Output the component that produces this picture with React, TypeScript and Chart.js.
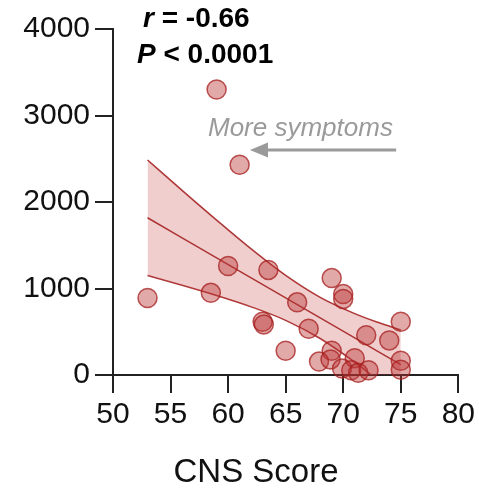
import React, { useEffect, useRef } from "react";
import { Chart, registerables } from "chart.js";

Chart.register(...registerables);

// Scatter data
const cnsScore = [53, 59, 61, 58.5, 60, 63.5, 66, 63, 63.1, 65, 67, 69, 70, 70, 72, 74, 75, 75, 75, 69, 67.9, 68.9, 71, 69.9, 70.7, 71.3, 72.2];
const values = [890, 3300, 2430, 950, 1260, 1215, 840, 615, 585, 280, 535, 1120, 935, 880, 460, 400, 615, 165, 60, 280, 155, 180, 195, 75, 55, 25, 55];

// Regression line and 95% band
const fitX = [53, 56, 59, 62, 65, 68, 71, 73, 75];
const fitMid = [1818, 1586, 1355, 1123, 892, 660, 429, 274, 120];
const fitUpper = [2486, 2135, 1791, 1458, 1152, 898, 710, 609, 520];
const fitLower = [1150, 1037, 919, 788, 632, 422, 148, -61, -280];

// Axes
const xMin = 50, xMax = 80, xStep = 5;
const yMin = 0, yMax = 4000, yStep = 1000;
const xTitle = "CNS Score";
const statR = " = -0.66";
const statP = " < 0.0001";
const arrowLabel = "More symptoms";
const arrowFromX = 74.6, arrowToX = 61.9, arrowY = 2600;

const FONT = '"Liberation Sans", Arial, Helvetica, sans-serif';
const RED_LINE = "rgba(165, 35, 35, 0.9)";

const annotPlugin = {
  id: "annot",
  afterDraw(chart: any) {
    const ctx = chart.ctx as CanvasRenderingContext2D;
    const xs = chart.scales.x, ys = chart.scales.y;
    ctx.save();
    ctx.textAlign = "left";
    ctx.textBaseline = "alphabetic";
    ctx.fillStyle = "#000";
    // r = ...
    let x = 143, y = 27;
    ctx.font = `italic bold 28px ${FONT}`;
    ctx.fillText("r", x, y);
    x += ctx.measureText("r").width;
    ctx.font = `bold 28px ${FONT}`;
    ctx.fillText(statR, x, y);
    // P < ...
    x = 137; y = 63;
    ctx.font = `italic bold 28px ${FONT}`;
    ctx.fillText("P", x, y);
    x += ctx.measureText("P").width;
    ctx.font = `bold 28px ${FONT}`;
    ctx.fillText(statP, x, y);

    // More symptoms
    ctx.fillStyle = "#9a9a9a";
    ctx.font = `italic 26px ${FONT}`;
    ctx.fillText(arrowLabel, 208, 136);

    // arrow
    const ax1 = xs.getPixelForValue(arrowFromX);
    const ax2 = xs.getPixelForValue(arrowToX);
    const ay = ys.getPixelForValue(arrowY);
    ctx.strokeStyle = "#9a9a9a";
    ctx.lineWidth = 3;
    ctx.beginPath();
    ctx.moveTo(ax1, ay);
    ctx.lineTo(ax2 + 14, ay);
    ctx.stroke();
    ctx.beginPath();
    ctx.moveTo(ax2, ay);
    ctx.lineTo(ax2 + 18, ay - 7.5);
    ctx.lineTo(ax2 + 18, ay + 7.5);
    ctx.closePath();
    ctx.fill();

    // x title
    ctx.fillStyle = "#111";
    ctx.font = `33px ${FONT}`;
    ctx.textAlign = "center";
    ctx.fillText(xTitle, 256, 482);
    ctx.restore();
  },
};

export default function App() {
  const ref = useRef<HTMLCanvasElement | null>(null);
  useEffect(() => {
    if (!ref.current) return;
    const pts = cnsScore.map((v, i) => ({ x: v, y: values[i] }));
    const up = fitX.map((v, i) => ({ x: v, y: fitUpper[i] }));
    const lo = fitX.map((v, i) => ({ x: v, y: fitLower[i] }));
    const mid = fitX.map((v, i) => ({ x: v, y: fitMid[i] }));
    const chart = new Chart(ref.current, {
      type: "scatter",
      data: {
        datasets: [
          {
            data: pts,
            pointRadius: 9.5,
            pointBackgroundColor: "rgba(185, 50, 50, 0.42)",
            pointBorderColor: "rgba(165, 30, 30, 0.75)",
            pointBorderWidth: 1.5,
            order: 0,
            clip: false,
          } as any,
          {
            data: up,
            showLine: true,
            pointRadius: 0,
            borderColor: RED_LINE,
            borderWidth: 1.5,
            cubicInterpolationMode: "monotone",
            fill: { target: 2 },
            backgroundColor: "rgba(195, 60, 60, 0.25)",
            order: 2,
          },
          {
            data: lo,
            showLine: true,
            pointRadius: 0,
            borderColor: RED_LINE,
            borderWidth: 1.5,
            cubicInterpolationMode: "monotone",
            order: 3,
          },
          {
            data: mid,
            showLine: true,
            pointRadius: 0,
            borderColor: RED_LINE,
            borderWidth: 1.5,
            order: 1,
          },
        ],
      },
      options: {
        animation: false,
        responsive: false,
        devicePixelRatio: 1,
        events: [],
        layout: { padding: { top: 29, right: 20, left: 0, bottom: 0 } },
        plugins: { legend: { display: false }, tooltip: { enabled: false } },
        scales: {
          x: {
            type: "linear",
            min: xMin,
            max: xMax,
            afterFit: (s: any) => { s.height = 120; },
            ticks: { stepSize: xStep, color: "#111", font: { family: FONT, size: 30 }, padding: 4, callback: (v: any) => String(v) },
            grid: { drawOnChartArea: false, drawTicks: true, tickLength: 18, color: "#222", lineWidth: 2 },
            border: { display: true, color: "#222", width: 2 },
          },
          y: {
            type: "linear",
            min: yMin,
            max: yMax,
            afterFit: (s: any) => { s.width = 113; },
            ticks: { stepSize: yStep, color: "#111", font: { family: FONT, size: 30 }, padding: 5, callback: (v: any) => String(v) },
            grid: { drawOnChartArea: false, drawTicks: true, tickLength: 18, color: "#222", lineWidth: 2 },
            border: { display: true, color: "#222", width: 2 },
          },
        },
      } as any,
      plugins: [annotPlugin],
    });
    return () => chart.destroy();
  }, []);
  return (
    <div style={{ position: "absolute", left: 0, top: 0, width: 479, height: 495, background: "#fff" }}>
      <canvas ref={ref} width={479} height={495} />
    </div>
  );
}
